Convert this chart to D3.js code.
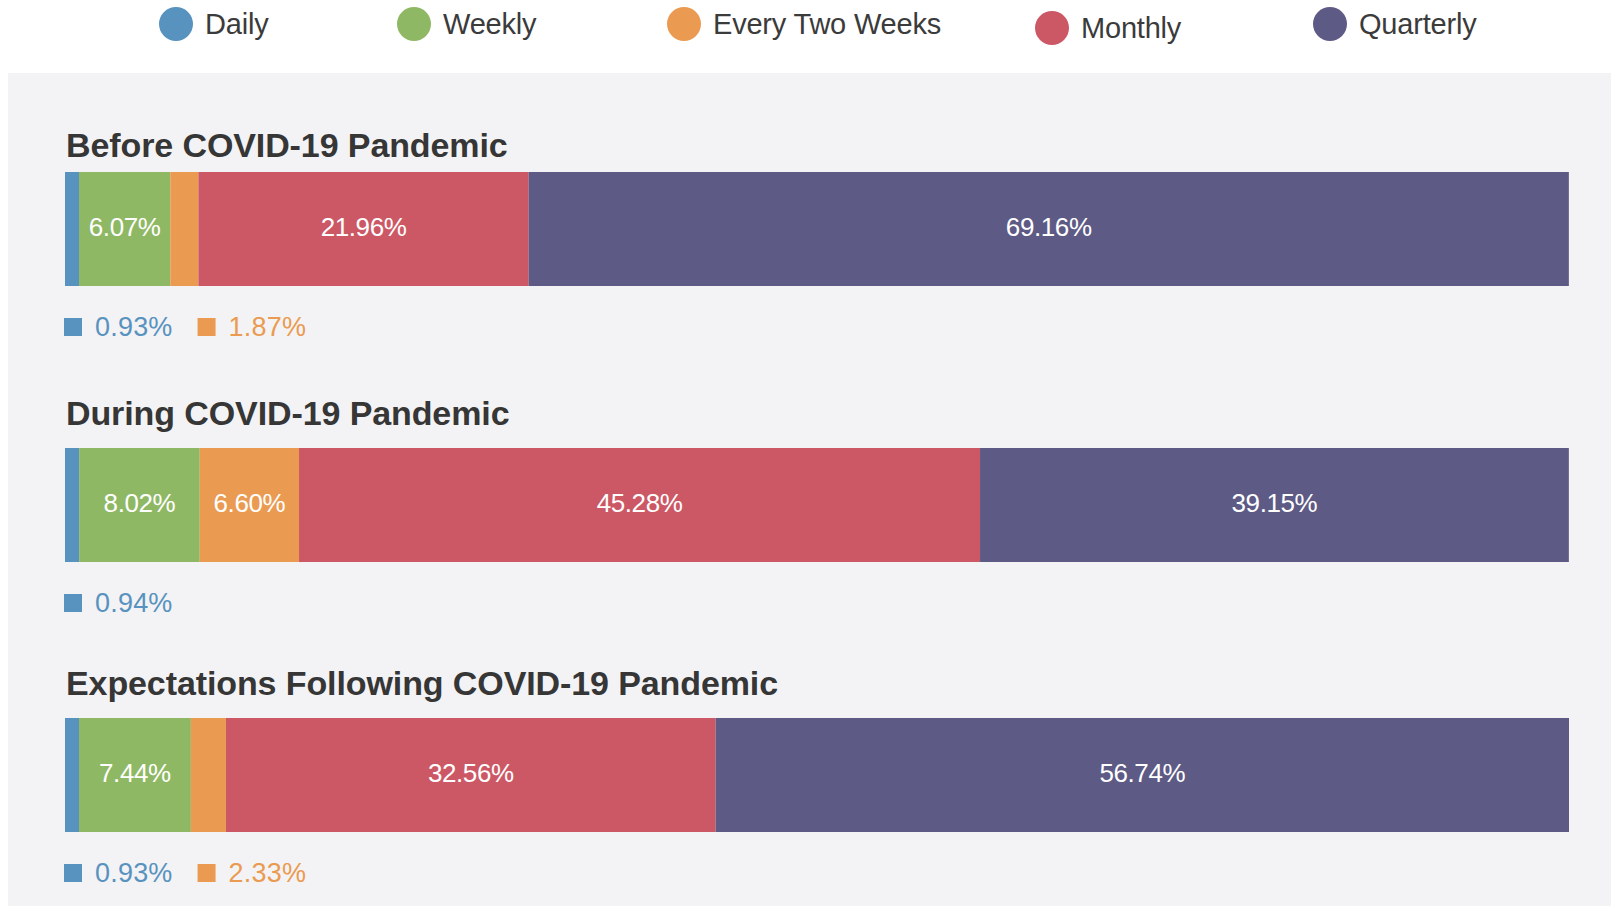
<!DOCTYPE html>
<html>
<head>
<meta charset="utf-8">
<script src="https://cdn.jsdelivr.net/npm/d3@7"></script>
<style>
  body { margin: 0; background: #fff; }
  svg { display: block; font-family: "Liberation Sans", Arial, sans-serif; }
</style>
</head>
<body>
<svg width="1611" height="906"></svg>
<script>
// DATA
const categories = ["Daily", "Weekly", "Every Two Weeks", "Monthly", "Quarterly"];
const periods = [
  "Before COVID-19 Pandemic",
  "During COVID-19 Pandemic",
  "Expectations Following COVID-19 Pandemic"
];
const beforeValues = [0.93, 6.07, 1.87, 21.96, 69.16];
const duringValues = [0.94, 8.02, 6.60, 45.28, 39.15];
const afterValues = [0.93, 7.44, 2.33, 32.56, 56.74];

const colors = ["#5892bf", "#8fb865", "#ea9b51", "#cd5865", "#5d5a85"];

const svg = d3.select("svg");
const width = +svg.attr("width");
const height = +svg.attr("height");

// LAYOUT
const barLeft = 65, barRight = 1569, barHeight = 114;
const rowTops = [172, 448, 718];
const titleGap = [15, 23, 23];
const legendX = [176, 414, 684, 1052, 1330];
const legendDy = [0, 0, 0, 4, 0];
const insideMin = 5; // segments under this get their label below the bar

const x = d3.scaleLinear().domain([0, 100]).range([barLeft, barRight]);
const color = d3.scaleOrdinal().domain(categories).range(colors);

// background panel
svg.append("rect")
  .attr("x", 8).attr("y", 73)
  .attr("width", width - 8).attr("height", height - 73)
  .attr("fill", "#f3f3f5");

// legend
const legend = svg.append("g")
  .selectAll("g")
  .data(categories)
  .enter()
  .append("g")
  .attr("transform", (d, i) => `translate(${legendX[i]}, ${24 + legendDy[i]})`);

legend.append("circle").attr("r", 17).attr("fill", d => color(d));
legend.append("text")
  .attr("x", 29).attr("dy", "0.35em")
  .attr("font-size", 29).attr("letter-spacing", -0.2)
  .attr("fill", "#3b3b3b")
  .text(d => d);

const rows = [beforeValues, duringValues, afterValues].map((vals, r) => {
  let acc = 0;
  const segs = vals.map((v, i) => {
    const s = { cat: categories[i], value: v, x0: acc, x1: acc + v };
    acc += v;
    return s;
  });
  return { title: periods[r], segs: segs, top: rowTops[r], gap: titleGap[r] };
});

const row = svg.selectAll("g.row")
  .data(rows)
  .enter()
  .append("g")
  .attr("class", "row")
  .attr("transform", d => `translate(0, ${d.top})`);

row.append("text")
  .attr("x", barLeft + 1)
  .attr("y", d => -d.gap)
  .attr("font-size", 34).attr("font-weight", "bold")
  .attr("letter-spacing", -0.1)
  .attr("fill", "#363636")
  .text(d => d.title);

row.selectAll("rect.seg")
  .data(d => d.segs)
  .enter()
  .append("rect")
  .attr("class", "seg")
  .attr("x", d => x(d.x0))
  .attr("width", d => x(d.x1) - x(d.x0))
  .attr("height", barHeight)
  .attr("fill", d => color(d.cat));

row.selectAll("text.inside")
  .data(d => d.segs.filter(s => s.value >= insideMin))
  .enter()
  .append("text")
  .attr("class", "inside")
  .attr("x", d => (x(d.x0) + x(d.x1)) / 2)
  .attr("y", barHeight / 2 - 2)
  .attr("dy", "0.35em")
  .attr("text-anchor", "middle")
  .attr("font-size", 26).attr("letter-spacing", -0.4)
  .attr("fill", "#fff")
  .text(d => d.value.toFixed(2) + "%");

// small segments labelled under the bar
row.each(function(d) {
  const g = d3.select(this);
  let cx = barLeft - 1;
  d.segs.filter(s => s.value < insideMin).forEach(s => {
    g.append("rect")
      .attr("x", cx).attr("y", barHeight + 32)
      .attr("width", 18).attr("height", 18)
      .attr("fill", color(s.cat));
    const t = g.append("text")
      .attr("x", cx + 31).attr("y", barHeight + 41)
      .attr("dy", "0.35em")
      .attr("font-size", 27).attr("letter-spacing", 0.2)
      .attr("fill", color(s.cat))
      .text(s.value.toFixed(2) + "%");
    cx += 31 + t.node().getComputedTextLength() + 25;
  });
});
</script>
</body>
</html>
